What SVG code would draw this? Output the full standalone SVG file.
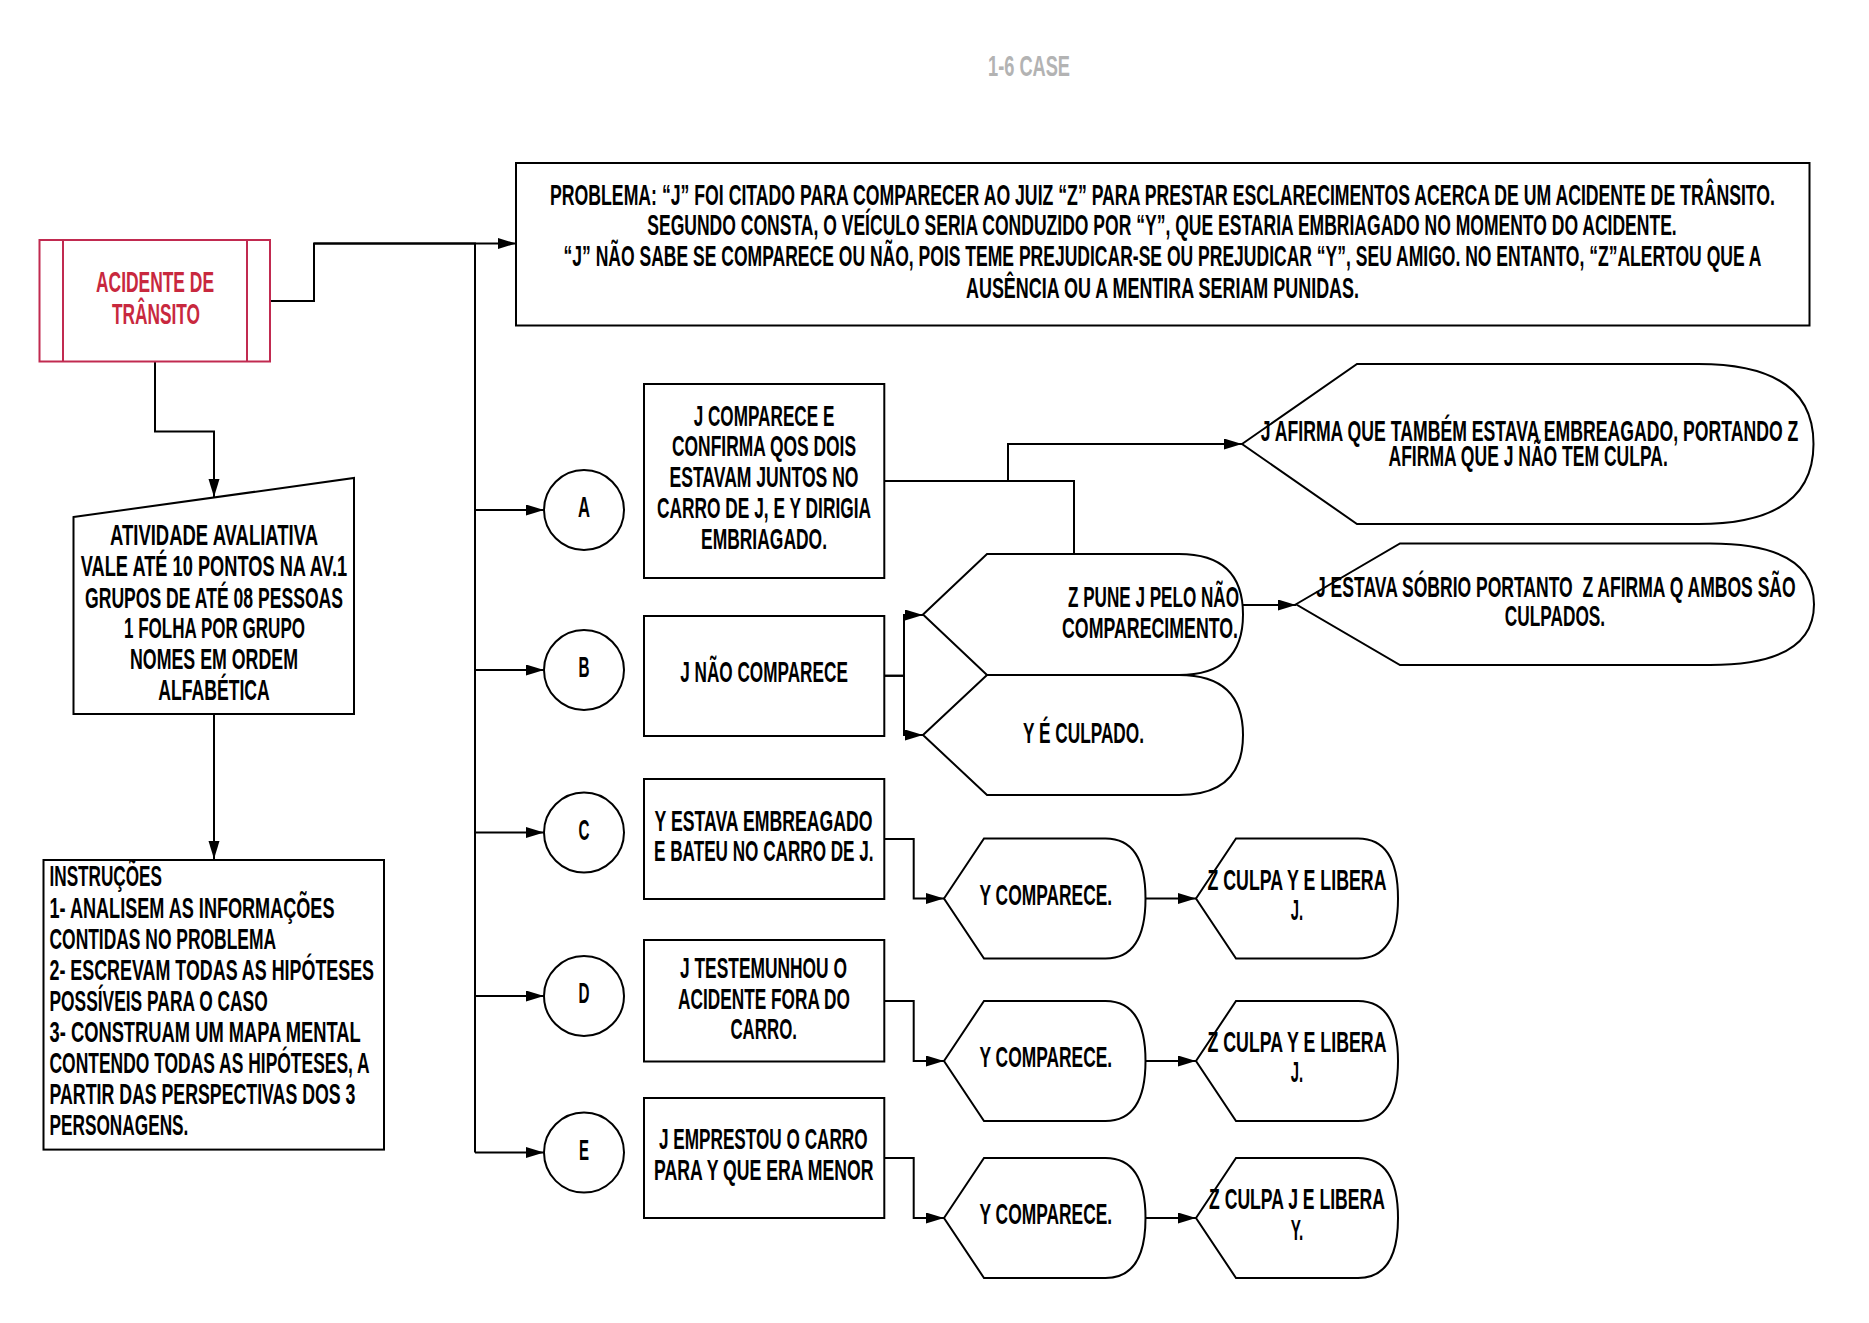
<svg xmlns="http://www.w3.org/2000/svg" width="1869" height="1323" viewBox="0 0 1869 1323">
<defs>
<style>
.t{font-family:'Liberation Sans Narrow','Liberation Sans',Arial,sans-serif;font-weight:bold;font-size:30px;fill:#000;}
.m{text-anchor:middle;}
.red{fill:#C8283E;}
.gray{fill:#B3B3B3;}
.box{fill:#fff;stroke:#000;stroke-width:2;}
.rbox{fill:#fff;stroke:#C12A50;stroke-width:2;}
.rl{stroke:#C12A50;stroke-width:2;fill:none;}
.c{fill:none;stroke:#000;stroke-width:2;}
.ca{fill:none;stroke:#000;stroke-width:2;marker-end:url(#arr);}
</style>
<marker id="arr" markerUnits="userSpaceOnUse" markerWidth="20" markerHeight="12" refX="18" refY="5.5" orient="auto">
<path d="M0,0 L18,5.5 L0,11 Z" fill="#000"/>
</marker>
</defs>
<rect width="1869" height="1323" fill="#fff"/>

<g id="title">
<text class="t m gray" x="1029" y="76" textLength="82" lengthAdjust="spacingAndGlyphs">1-6 CASE</text>
</g>

<g id="connectors">
<path class="ca" d="M270.5,301 H314 V243.5 H516"/>
<path class="c" d="M314,243.5 H475 V1152.6"/>
<path class="ca" d="M475,510 H544"/>
<path class="ca" d="M475,670 H544"/>
<path class="ca" d="M475,832.5 H544"/>
<path class="ca" d="M475,996 H544"/>
<path class="ca" d="M475,1152.6 H544"/>
<path class="ca" d="M155,361.5 V431.4 H214 V497"/>
<path class="ca" d="M214,714 V859"/>
<path class="ca" d="M884.3,481 H1008 V444 H1242"/>
<path class="c" d="M884.3,481 H1074 V554"/>
<path class="ca" d="M884.3,675.7 H904 V615 H923"/>
<path class="ca" d="M884.3,675.7 H904 V735 H923"/>
<path class="ca" d="M1243,605 H1296"/>
<path class="ca" d="M884.3,839 H913.7 V898.5 H944"/>
<path class="ca" d="M1145.5,898.5 H1196"/>
<path class="ca" d="M884.3,1001 H913.7 V1061 H944"/>
<path class="ca" d="M1145.5,1061 H1196"/>
<path class="ca" d="M884.3,1158 H913.7 V1218 H944"/>
<path class="ca" d="M1145.5,1218 H1196"/>
</g>

<g id="acidente">
<rect class="rbox" x="39.5" y="240" width="230.5" height="121.5"/>
<line class="rl" x1="63" y1="240" x2="63" y2="361.5"/>
<line class="rl" x1="247" y1="240" x2="247" y2="361.5"/>
<text class="t m red" x="155" y="292.3" textLength="118" lengthAdjust="spacingAndGlyphs">ACIDENTE DE</text>
<text class="t m red" x="156" y="324" textLength="88" lengthAdjust="spacingAndGlyphs">TRÂNSITO</text>
</g>

<g id="problema">
<rect class="box" x="516" y="163" width="1293.5" height="162.5"/>
<text class="t m" x="1162.5" y="204.5" textLength="1225" lengthAdjust="spacingAndGlyphs">PROBLEMA: “J” FOI CITADO PARA COMPARECER AO JUIZ “Z” PARA PRESTAR ESCLARECIMENTOS ACERCA DE UM ACIDENTE DE TRÂNSITO.</text>
<text class="t m" x="1162" y="235.3" textLength="1029.5" lengthAdjust="spacingAndGlyphs">SEGUNDO CONSTA, O VEÍCULO SERIA CONDUZIDO POR “Y”, QUE ESTARIA EMBRIAGADO NO MOMENTO DO ACIDENTE.</text>
<text class="t m" x="1162.5" y="266.3" textLength="1198" lengthAdjust="spacingAndGlyphs">“J” NÃO SABE SE COMPARECE OU NÃO, POIS TEME PREJUDICAR-SE OU PREJUDICAR “Y”, SEU AMIGO. NO ENTANTO, “Z”ALERTOU QUE A</text>
<text class="t m" x="1162.5" y="297.5" textLength="393" lengthAdjust="spacingAndGlyphs">AUSÊNCIA OU A MENTIRA SERIAM PUNIDAS.</text>
</g>

<g id="atividade">
<polygon class="box" points="73.5,517 354,478 354,714 73.5,714"/>
<text class="t m" x="214" y="545" textLength="208" lengthAdjust="spacingAndGlyphs">ATIVIDADE AVALIATIVA</text>
<text class="t m" x="214" y="576" textLength="266.5" lengthAdjust="spacingAndGlyphs">VALE ATÉ 10 PONTOS NA AV.1</text>
<text class="t m" x="214" y="607.5" textLength="258" lengthAdjust="spacingAndGlyphs">GRUPOS DE ATÉ 08 PESSOAS</text>
<text class="t m" x="214.5" y="638" textLength="181" lengthAdjust="spacingAndGlyphs">1 FOLHA POR GRUPO</text>
<text class="t m" x="214" y="669" textLength="168" lengthAdjust="spacingAndGlyphs">NOMES EM ORDEM</text>
<text class="t m" x="214" y="700" textLength="111.5" lengthAdjust="spacingAndGlyphs">ALFABÉTICA</text>
</g>

<g id="instrucoes">
<rect class="box" x="43.5" y="860" width="340.5" height="289.6"/>
<text class="t" x="49.5" y="886" textLength="112.5" lengthAdjust="spacingAndGlyphs">INSTRUÇÕES</text>
<text class="t" x="49.5" y="918" textLength="285" lengthAdjust="spacingAndGlyphs">1- ANALISEM AS INFORMAÇÕES</text>
<text class="t" x="49.5" y="949" textLength="226.5" lengthAdjust="spacingAndGlyphs">CONTIDAS NO PROBLEMA</text>
<text class="t" x="49.5" y="980" textLength="324.5" lengthAdjust="spacingAndGlyphs">2- ESCREVAM TODAS AS HIPÓTESES</text>
<text class="t" x="49.5" y="1011" textLength="218.2" lengthAdjust="spacingAndGlyphs">POSSÍVEIS PARA O CASO</text>
<text class="t" x="49.5" y="1042" textLength="311.3" lengthAdjust="spacingAndGlyphs">3- CONSTRUAM UM MAPA MENTAL</text>
<text class="t" x="49.5" y="1073" textLength="320.2" lengthAdjust="spacingAndGlyphs">CONTENDO TODAS AS HIPÓTESES, A</text>
<text class="t" x="49.5" y="1104" textLength="305.9" lengthAdjust="spacingAndGlyphs">PARTIR DAS PERSPECTIVAS DOS 3</text>
<text class="t" x="49.5" y="1135" textLength="138.9" lengthAdjust="spacingAndGlyphs">PERSONAGENS.</text>
</g>

<g id="circleA">
<circle class="box" cx="584" cy="510" r="40"/>
<text class="t m" x="584" y="517.3" textLength="12" lengthAdjust="spacingAndGlyphs">A</text>
</g>
<g id="circleB">
<circle class="box" cx="584" cy="670" r="40"/>
<text class="t m" x="584" y="677.3" textLength="11" lengthAdjust="spacingAndGlyphs">B</text>
</g>
<g id="circleC">
<circle class="box" cx="584" cy="832.5" r="40"/>
<text class="t m" x="584" y="839.8" textLength="11" lengthAdjust="spacingAndGlyphs">C</text>
</g>
<g id="circleD">
<circle class="box" cx="584" cy="996" r="40"/>
<text class="t m" x="584" y="1003.3" textLength="11" lengthAdjust="spacingAndGlyphs">D</text>
</g>
<g id="circleE">
<circle class="box" cx="584" cy="1152.6" r="40"/>
<text class="t m" x="584" y="1159.9" textLength="10" lengthAdjust="spacingAndGlyphs">E</text>
</g>

<g id="boxA">
<rect class="box" x="644" y="384" width="240.3" height="194"/>
<text class="t m" x="764" y="425.7" textLength="140.7" lengthAdjust="spacingAndGlyphs">J COMPARECE E</text>
<text class="t m" x="764" y="456" textLength="184" lengthAdjust="spacingAndGlyphs">CONFIRMA QOS DOIS</text>
<text class="t m" x="764" y="487.3" textLength="189" lengthAdjust="spacingAndGlyphs">ESTAVAM JUNTOS NO</text>
<text class="t m" x="764" y="518.3" textLength="214" lengthAdjust="spacingAndGlyphs">CARRO DE J, E Y DIRIGIA</text>
<text class="t m" x="764" y="549.3" textLength="126" lengthAdjust="spacingAndGlyphs">EMBRIAGADO.</text>
</g>
<g id="boxB">
<rect class="box" x="644" y="616" width="240.3" height="120"/>
<text class="t m" x="764" y="681.7" textLength="167.7" lengthAdjust="spacingAndGlyphs">J NÃO COMPARECE</text>
</g>
<g id="boxC">
<rect class="box" x="644" y="779" width="240.3" height="120"/>
<text class="t m" x="763.5" y="830.5" textLength="218" lengthAdjust="spacingAndGlyphs">Y ESTAVA EMBREAGADO</text>
<text class="t m" x="763.8" y="861" textLength="219.6" lengthAdjust="spacingAndGlyphs">E BATEU NO CARRO DE J.</text>
</g>
<g id="boxD">
<rect class="box" x="644" y="940" width="240.3" height="121.5"/>
<text class="t m" x="763.5" y="978" textLength="167" lengthAdjust="spacingAndGlyphs">J TESTEMUNHOU O</text>
<text class="t m" x="764" y="1008.7" textLength="172" lengthAdjust="spacingAndGlyphs">ACIDENTE FORA DO</text>
<text class="t m" x="763.7" y="1039.4" textLength="66.5" lengthAdjust="spacingAndGlyphs">CARRO.</text>
</g>
<g id="boxE">
<rect class="box" x="644" y="1098" width="240.3" height="120"/>
<text class="t m" x="763.3" y="1148.5" textLength="208.6" lengthAdjust="spacingAndGlyphs">J EMPRESTOU O CARRO</text>
<text class="t m" x="763.8" y="1180" textLength="219.6" lengthAdjust="spacingAndGlyphs">PARA Y QUE ERA MENOR</text>
</g>

<g id="zpune">
<path class="box" d="M923,614.5 L987,554 L1179,554 Q1243,554 1243,614.5 Q1243,675 1179,675 L987,675 Z"/>
<text class="t m" x="1153.5" y="607.3" textLength="171" lengthAdjust="spacingAndGlyphs">Z PUNE J PELO NÃO</text>
<text class="t m" x="1150" y="637.5" textLength="176" lengthAdjust="spacingAndGlyphs">COMPARECIMENTO.</text>
</g>
<g id="yculpado">
<path class="box" d="M923,735 L987,675 L1179,675 Q1243,675 1243,735 Q1243,795 1179,795 L987,795 Z"/>
<text class="t m" x="1083.5" y="742.5" textLength="121" lengthAdjust="spacingAndGlyphs">Y É CULPADO.</text>
</g>
<g id="jafirma">
<path class="box" d="M1242,444 L1357,364 L1698.5,364 Q1813.5,364 1813.5,444 Q1813.5,524 1698.5,524 L1357,524 Z"/>
<text class="t m" x="1529.5" y="440.7" textLength="537.7" lengthAdjust="spacingAndGlyphs">J AFIRMA QUE TAMBÉM ESTAVA EMBREAGADO, PORTANDO Z</text>
<text class="t m" x="1528.2" y="465.7" textLength="279.4" lengthAdjust="spacingAndGlyphs">AFIRMA QUE J NÃO TEM CULPA.</text>
</g>
<g id="jsobrio">
<path class="box" d="M1296,604.25 L1400,543.5 L1710,543.5 Q1814,543.5 1814,604.25 Q1814,665 1710,665 L1400,665 Z"/>
<text class="t m" x="1555.8" y="597.2" textLength="479.6" lengthAdjust="spacingAndGlyphs" style="white-space:pre">J ESTAVA SÓBRIO PORTANTO  Z AFIRMA Q AMBOS SÃO</text>
<text class="t m" x="1555" y="626" textLength="100.3" lengthAdjust="spacingAndGlyphs">CULPADOS.</text>
</g>

<g id="ycompC">
<path class="box" d="M944,898.5 L984,838.5 L1105.5,838.5 Q1145.5,838.5 1145.5,898.5 Q1145.5,958.5 1105.5,958.5 L984,958.5 Z"/>
<text class="t m" x="1045.8" y="904.7" textLength="132.6" lengthAdjust="spacingAndGlyphs">Y COMPARECE.</text>
</g>
<g id="zculpaC">
<path class="box" d="M1196,898.5 L1236,838.5 L1358,838.5 Q1398,838.5 1398,898.5 Q1398,958.5 1358,958.5 L1236,958.5 Z"/>
<text class="t m" x="1297" y="889.5" textLength="179" lengthAdjust="spacingAndGlyphs">Z CULPA Y E LIBERA</text>
<text class="t m" x="1297" y="919.5" textLength="12.4" lengthAdjust="spacingAndGlyphs">J.</text>
</g>
<g id="ycompD">
<path class="box" d="M944,1061 L984,1001 L1105.5,1001 Q1145.5,1001 1145.5,1061 Q1145.5,1121 1105.5,1121 L984,1121 Z"/>
<text class="t m" x="1045.8" y="1066.8" textLength="132.6" lengthAdjust="spacingAndGlyphs">Y COMPARECE.</text>
</g>
<g id="zculpaD">
<path class="box" d="M1196,1061 L1236,1001 L1358,1001 Q1398,1001 1398,1061 Q1398,1121 1358,1121 L1236,1121 Z"/>
<text class="t m" x="1297" y="1051.6" textLength="179" lengthAdjust="spacingAndGlyphs">Z CULPA Y E LIBERA</text>
<text class="t m" x="1297" y="1082" textLength="12.4" lengthAdjust="spacingAndGlyphs">J.</text>
</g>
<g id="ycompE">
<path class="box" d="M944,1218 L984,1158 L1105.5,1158 Q1145.5,1158 1145.5,1218 Q1145.5,1278 1105.5,1278 L984,1278 Z"/>
<text class="t m" x="1045.8" y="1223.8" textLength="132.6" lengthAdjust="spacingAndGlyphs">Y COMPARECE.</text>
</g>
<g id="zculpaE">
<path class="box" d="M1196,1218 L1236,1158 L1358,1158 Q1398,1158 1398,1218 Q1398,1278 1358,1278 L1236,1278 Z"/>
<text class="t m" x="1297" y="1209" textLength="175.8" lengthAdjust="spacingAndGlyphs">Z CULPA J E LIBERA</text>
<text class="t m" x="1297" y="1240" textLength="12.7" lengthAdjust="spacingAndGlyphs">Y.</text>
</g>
</svg>
